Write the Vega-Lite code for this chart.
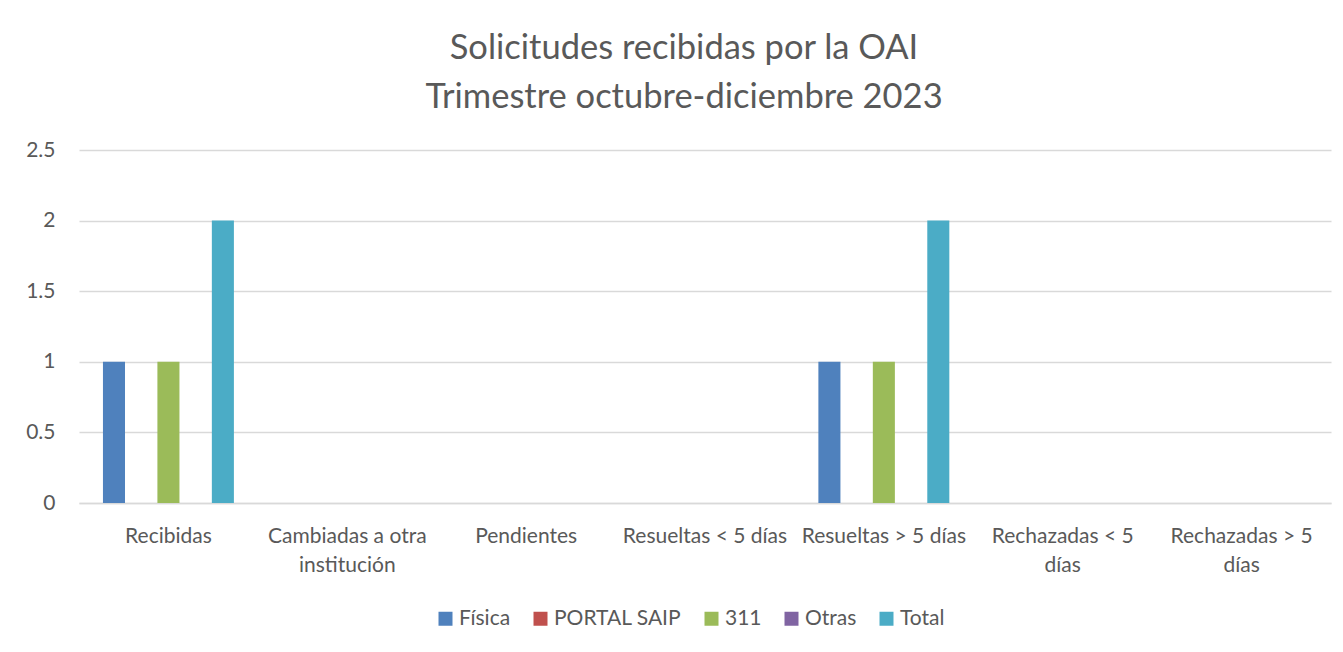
{
  "$schema": "https://vega.github.io/schema/vega-lite/v6.json",
  "autosize": "none",
  "width": 1252,
  "height": 353,
  "padding": {"left": 79, "top": 150, "right": 12, "bottom": 149},
  "background": "white",
  "config": {
    "font": "Lato",
    "view": {"stroke": null}
  },
  "title": {
    "text": ["Solicitudes recibidas por la OAI", "Trimestre octubre-diciembre 2023"],
    "fontSize": 34.5,
    "fontWeight": "normal",
    "color": "#595959",
    "anchor": "middle",
    "dx": -21,
    "lineHeight": 49,
    "offset": 24
  },
  "data": {
    "values": [
      {"categoria": "Recibidas", "serie": "Física", "valor": 1},
      {"categoria": "Recibidas", "serie": "PORTAL SAIP", "valor": 0},
      {"categoria": "Recibidas", "serie": "311", "valor": 1},
      {"categoria": "Recibidas", "serie": "Otras", "valor": 0},
      {"categoria": "Recibidas", "serie": "Total", "valor": 2},
      {"categoria": "Cambiadas a otra institución", "serie": "Física", "valor": 0},
      {"categoria": "Cambiadas a otra institución", "serie": "PORTAL SAIP", "valor": 0},
      {"categoria": "Cambiadas a otra institución", "serie": "311", "valor": 0},
      {"categoria": "Cambiadas a otra institución", "serie": "Otras", "valor": 0},
      {"categoria": "Cambiadas a otra institución", "serie": "Total", "valor": 0},
      {"categoria": "Pendientes", "serie": "Física", "valor": 0},
      {"categoria": "Pendientes", "serie": "PORTAL SAIP", "valor": 0},
      {"categoria": "Pendientes", "serie": "311", "valor": 0},
      {"categoria": "Pendientes", "serie": "Otras", "valor": 0},
      {"categoria": "Pendientes", "serie": "Total", "valor": 0},
      {"categoria": "Resueltas < 5 días", "serie": "Física", "valor": 0},
      {"categoria": "Resueltas < 5 días", "serie": "PORTAL SAIP", "valor": 0},
      {"categoria": "Resueltas < 5 días", "serie": "311", "valor": 0},
      {"categoria": "Resueltas < 5 días", "serie": "Otras", "valor": 0},
      {"categoria": "Resueltas < 5 días", "serie": "Total", "valor": 0},
      {"categoria": "Resueltas > 5 días", "serie": "Física", "valor": 1},
      {"categoria": "Resueltas > 5 días", "serie": "PORTAL SAIP", "valor": 0},
      {"categoria": "Resueltas > 5 días", "serie": "311", "valor": 1},
      {"categoria": "Resueltas > 5 días", "serie": "Otras", "valor": 0},
      {"categoria": "Resueltas > 5 días", "serie": "Total", "valor": 2},
      {"categoria": "Rechazadas  < 5 días", "serie": "Física", "valor": 0},
      {"categoria": "Rechazadas  < 5 días", "serie": "PORTAL SAIP", "valor": 0},
      {"categoria": "Rechazadas  < 5 días", "serie": "311", "valor": 0},
      {"categoria": "Rechazadas  < 5 días", "serie": "Otras", "valor": 0},
      {"categoria": "Rechazadas  < 5 días", "serie": "Total", "valor": 0},
      {"categoria": "Rechazadas  > 5 días", "serie": "Física", "valor": 0},
      {"categoria": "Rechazadas  > 5 días", "serie": "PORTAL SAIP", "valor": 0},
      {"categoria": "Rechazadas  > 5 días", "serie": "311", "valor": 0},
      {"categoria": "Rechazadas  > 5 días", "serie": "Otras", "valor": 0},
      {"categoria": "Rechazadas  > 5 días", "serie": "Total", "valor": 0}
    ]
  },
  "mark": {"type": "bar"},
  "encoding": {
    "x": {
      "field": "categoria",
      "type": "nominal",
      "sort": null,
      "scale": {"paddingInner": 0, "paddingOuter": 0},
      "axis": {
        "title": null,
        "labelAngle": 0,
        "ticks": false,
        "domainColor": "#D9D9D9",
        "domainWidth": 1.5,
        "labelColor": "#595959",
        "labelFontSize": 21,
        "labelPadding": 22,
        "labelLimit": 0,
        "labelOverlap": false,
        "labelLineHeight": 29,
        "labelBaseline": "top",
        "labelExpr": "datum.label == 'Cambiadas a otra institución' ? ['Cambiadas a otra', 'institución'] : datum.label == 'Rechazadas  < 5 días' ? ['Rechazadas  < 5', 'días'] : datum.label == 'Rechazadas  > 5 días' ? ['Rechazadas  > 5', 'días'] : datum.label"
      }
    },
    "xOffset": {
      "field": "serie",
      "type": "nominal",
      "sort": ["Física", "PORTAL SAIP", "311", "Otras", "Total"],
      "scale": {"paddingInner": 0.19, "paddingOuter": 0.88}
    },
    "y": {
      "field": "valor",
      "type": "quantitative",
      "scale": {"domain": [0, 2.5], "nice": false},
      "axis": {
        "title": null,
        "values": [0, 0.5, 1, 1.5, 2, 2.5],
        "format": "~g",
        "domain": false,
        "ticks": false,
        "gridColor": "#D9D9D9",
        "gridWidth": 1.5,
        "labelColor": "#595959",
        "labelFontSize": 21,
        "labelPadding": 24
      }
    },
    "color": {
      "field": "serie",
      "type": "nominal",
      "sort": ["Física", "PORTAL SAIP", "311", "Otras", "Total"],
      "scale": {
        "domain": ["Física", "PORTAL SAIP", "311", "Otras", "Total"],
        "range": ["#4F81BD", "#C0504D", "#9BBB59", "#8064A2", "#4BACC6"]
      },
      "legend": {
        "title": null,
        "orient": "none",
        "direction": "horizontal",
        "legendX": 356,
        "legendY": 458,
        "symbolType": "square",
        "symbolSize": 196,
        "symbolStrokeWidth": 0,
        "symbolOpacity": 1,
        "labelFontSize": 21,
        "labelColor": "#595959",
        "labelOffset": 3,
        "columnPadding": 19
      }
    }
  }
}
